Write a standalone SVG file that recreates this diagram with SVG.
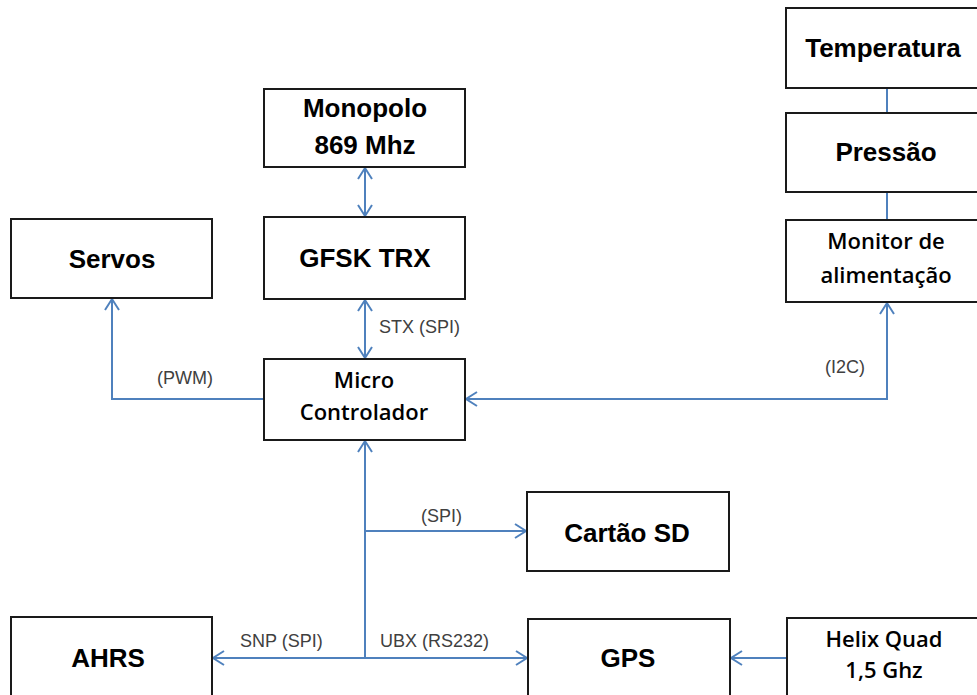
<svg xmlns="http://www.w3.org/2000/svg" width="977" height="695" viewBox="0 0 977 695">
<style>
.box{fill:#fff;stroke:#1a1a1a;stroke-width:2}
.t{font-family:"Liberation Sans",Arial,sans-serif;font-weight:bold;font-size:26px;fill:#000;text-anchor:middle}
.m{font-family:"Open Sans","Liberation Sans",Arial,sans-serif;font-weight:600;font-size:22px;fill:#000;text-anchor:middle}
.l{font-family:"Liberation Sans",Arial,sans-serif;font-size:18px;fill:#404040}
.c{fill:none;stroke:#4f81bd;stroke-width:2}
</style>
<defs>
<marker id="ah" markerWidth="18" markerHeight="18" viewBox="-15 -9 18 18" refX="0" refY="0" orient="auto-start-reverse" markerUnits="userSpaceOnUse" overflow="visible">
<path d="M-11,-7 L0,0 L-11,7" fill="none" stroke="#4f81bd" stroke-width="2"/>
</marker>
</defs>
<g id="connectors">
<line class="c" x1="365" y1="168" x2="365" y2="216" marker-start="url(#ah)" marker-end="url(#ah)"/>
<line class="c" x1="365" y1="300" x2="365" y2="358" marker-start="url(#ah)" marker-end="url(#ah)"/>
<path class="c" d="M264,399 H112 V299" marker-end="url(#ah)"/>
<path class="c" d="M887,303 V399 H466" marker-start="url(#ah)" marker-end="url(#ah)"/>
<line class="c" x1="887" y1="88" x2="887" y2="113"/>
<line class="c" x1="887" y1="192" x2="887" y2="220"/>
<line class="c" x1="365" y1="658" x2="365" y2="441" marker-end="url(#ah)"/>
<line class="c" x1="213" y1="658" x2="527" y2="658" marker-start="url(#ah)" marker-end="url(#ah)"/>
<line class="c" x1="365" y1="531" x2="526" y2="531" marker-end="url(#ah)"/>
<line class="c" x1="787" y1="658" x2="731" y2="658" marker-end="url(#ah)"/>
<text class="l" x="379" y="333">STX (SPI)</text>
<text class="l" x="157" y="384">(PWM)</text>
<text class="l" x="825" y="373">(I2C)</text>
<text class="l" x="421" y="522">(SPI)</text>
<text class="l" x="240" y="647">SNP (SPI)</text>
<text class="l" x="380" y="647">UBX (RS232)</text>
</g>
<g id="monopolo"><rect class="box" x="264" y="89" width="201" height="78"/><text class="t" x="365" y="117">Monopolo</text><text class="t" x="365" y="154">869 Mhz</text></g>
<g id="gfsk"><rect class="box" x="264" y="217" width="201" height="82"/><text class="t" x="365" y="267">GFSK TRX</text></g>
<g id="micro"><rect class="box" x="264" y="359" width="201" height="81"/><text class="m" x="364" y="388">Micro</text><text class="m" x="364" y="420">Controlador</text></g>
<g id="servos"><rect class="box" x="11" y="219" width="201" height="79"/><text class="t" x="112" y="268">Servos</text></g>
<g id="temperatura"><rect class="box" x="786" y="8" width="202" height="80"/><text class="t" x="883" y="57">Temperatura</text></g>
<g id="pressao"><rect class="box" x="786" y="113" width="202" height="79"/><text class="t" x="886" y="161">Pressão</text></g>
<g id="monitor"><rect class="box" x="786" y="220" width="202" height="82"/><text class="m" x="886" y="249">Monitor de</text><text class="m" x="886" y="283">alimentação</text></g>
<g id="cartao"><rect class="box" x="527" y="492" width="202" height="79"/><text class="t" x="627" y="542">Cartão SD</text></g>
<g id="ahrs"><rect class="box" x="11" y="617" width="201" height="90"/><text class="t" x="108" y="667">AHRS</text></g>
<g id="gps"><rect class="box" x="528" y="619" width="202" height="90"/><text class="t" x="628" y="667">GPS</text></g>
<g id="helix"><rect class="box" x="787" y="618" width="202" height="90"/><text class="m" x="884" y="647">Helix Quad</text><text class="m" x="884" y="678">1,5 Ghz</text></g>
</svg>
